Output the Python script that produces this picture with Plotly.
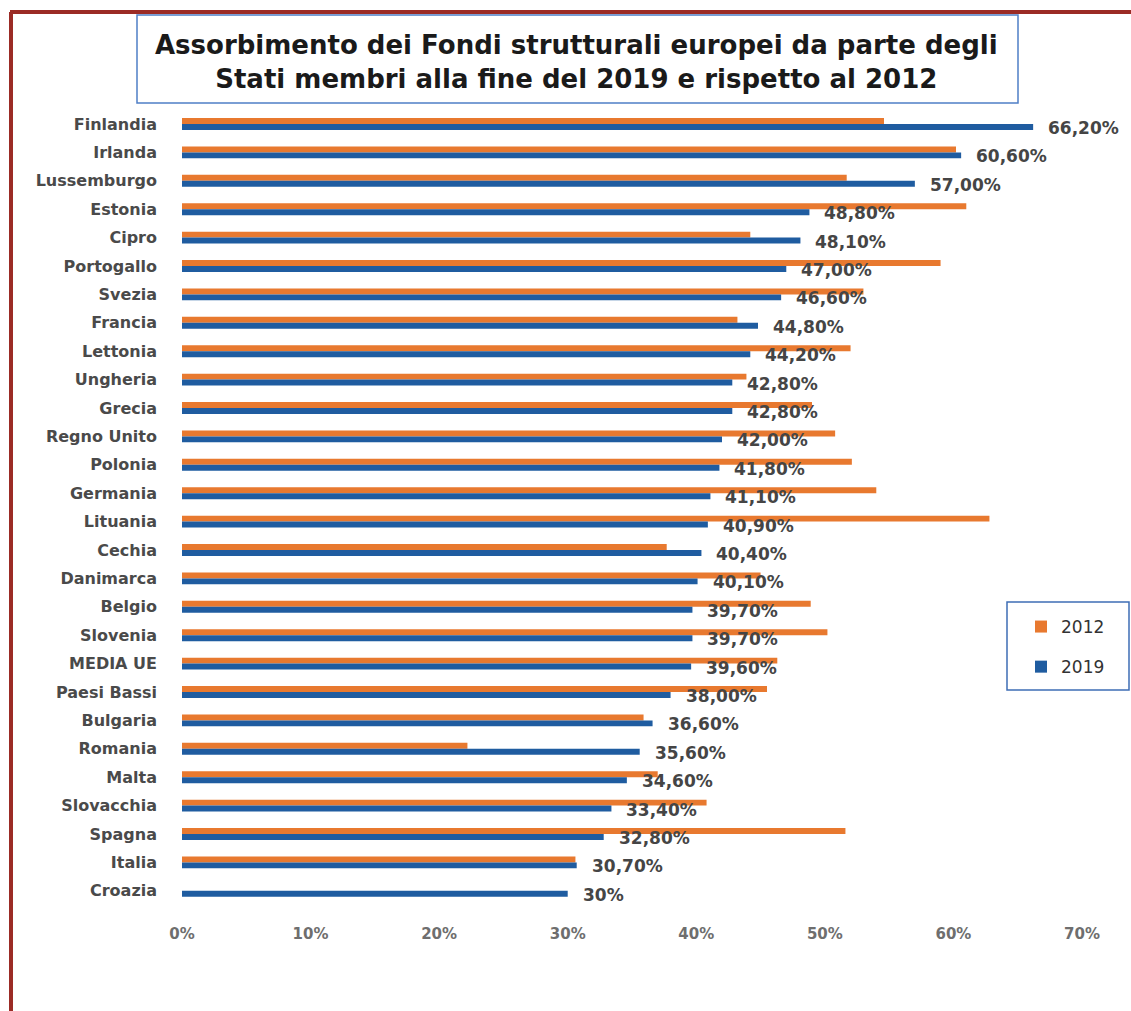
import plotly.graph_objects as go

countries = ["Finlandia", "Irlanda", "Lussemburgo", "Estonia", "Cipro", "Portogallo", "Svezia",
             "Francia", "Lettonia", "Ungheria", "Grecia", "Regno Unito", "Polonia", "Germania",
             "Lituania", "Cechia", "Danimarca", "Belgio", "Slovenia", "MEDIA UE", "Paesi Bassi",
             "Bulgaria", "Romania", "Malta", "Slovacchia", "Spagna", "Italia", "Croazia"]
values_2012 = [54.6, 60.2, 51.7, 61.0, 44.2, 59.0, 53.0, 43.2, 52.0, 43.9, 49.0, 50.8, 52.1, 54.0,
               62.8, 37.7, 45.0, 48.9, 50.2, 46.3, 45.5, 35.9, 22.2, 37.0, 40.8, 51.6, 30.6, None]
values_2019 = [66.2, 60.6, 57.0, 48.8, 48.1, 47.0, 46.6, 44.8, 44.2, 42.8, 42.8, 42.0, 41.8, 41.1,
               40.9, 40.4, 40.1, 39.7, 39.7, 39.6, 38.0, 36.6, 35.6, 34.6, 33.4, 32.8, 30.7, 30.0]
labels_2019 = ["66,20%", "60,60%", "57,00%", "48,80%", "48,10%", "47,00%", "46,60%", "44,80%",
               "44,20%", "42,80%", "42,80%", "42,00%", "41,80%", "41,10%", "40,90%", "40,40%",
               "40,10%", "39,70%", "39,70%", "39,60%", "38,00%", "36,60%", "35,60%", "34,60%",
               "33,40%", "32,80%", "30,70%", "30%"]
x_ticks = [0, 10, 20, 30, 40, 50, 60, 70]
x_tick_labels = ["0%", "10%", "20%", "30%", "40%", "50%", "60%", "70%"]
title_text = "Assorbimento dei Fondi strutturali europei da parte degli<br>Stati membri alla fine del 2019 e rispetto al 2012"

W, H = 1131, 1011
L, R, T, B = 182, 49, 108, 106
PW, PH = W - L - R, H - T - B

def px(xp):
    return (xp - L) / PW

def py(yp):
    return (H - B - yp) / PH

ORANGE = "#E8792F"
BLUE = "#1F5CA0"
FONT = "DejaVu Sans"

fig = go.Figure()
fig.add_trace(go.Bar(name="2012", orientation="h", y=countries, x=values_2012,
                     marker=dict(color=ORANGE, line=dict(width=0)), legendgroup="a"))
fig.add_trace(go.Bar(name="2019", orientation="h", y=countries, x=values_2019,
                     marker=dict(color=BLUE, line=dict(width=0)), legendgroup="b"))

for c, v, t in zip(countries, values_2019, labels_2019):
    fig.add_annotation(x=v, y=c, xref="x", yref="y", text=t, showarrow=False,
                       xanchor="left", yanchor="middle", xshift=13, yshift=-4,
                       font=dict(family=FONT, size=17, color="#454545", weight="bold"))

fig.add_annotation(x=px(576), y=py(62), xref="paper", yref="paper", text=title_text,
                   showarrow=False, xanchor="center", yanchor="middle", align="center",
                   font=dict(family=FONT, size=26, color="#1a1a1a", weight="bold"))

shapes = [
    dict(type="line", xref="paper", yref="paper", x0=px(10), x1=px(W + 5), y0=py(12), y1=py(12),
         line=dict(color="#9B2B25", width=4)),
    dict(type="line", xref="paper", yref="paper", x0=px(11), x1=px(11), y0=py(12), y1=py(H + 5),
         line=dict(color="#9B2B25", width=4)),
    dict(type="rect", xref="paper", yref="paper", x0=px(137), x1=px(1018), y0=py(103), y1=py(15),
         line=dict(color="#4F7FC6", width=1.5), fillcolor="rgba(0,0,0,0)"),
    dict(type="rect", xref="paper", yref="paper", x0=px(1007), x1=px(1129), y0=py(690), y1=py(602),
         line=dict(color="#3E6DB5", width=1.5), fillcolor="white", layer="below"),
]

fig.update_layout(
    width=W, height=H,
    margin=dict(l=L, r=R, t=T, b=B, pad=0),
    paper_bgcolor="white", plot_bgcolor="rgba(0,0,0,0)",
    barmode="group", bargap=0.58, bargroupgap=0,
    shapes=shapes,
    xaxis=dict(range=[0, 70], tickvals=x_ticks, ticktext=x_tick_labels, showgrid=False,
               zeroline=False, showline=False, ticks="", ticklabelstandoff=18,
               tickfont=dict(family=FONT, size=15, color="#6e6e6e", weight="bold")),
    yaxis=dict(autorange="reversed", showgrid=False, zeroline=False, showline=False, ticks="",
               ticklabelstandoff=24,
               tickfont=dict(family=FONT, size=16, color="#4a4a4a", weight="bold")),
    legend=dict(x=px(1021), y=py(609), xanchor="left", yanchor="top",
                borderwidth=0, bgcolor="rgba(0,0,0,0)",
                traceorder="grouped", tracegroupgap=15,
                font=dict(family=FONT, size=17, color="#333333")),
    showlegend=True,
)

fig.write_html("out.html")
